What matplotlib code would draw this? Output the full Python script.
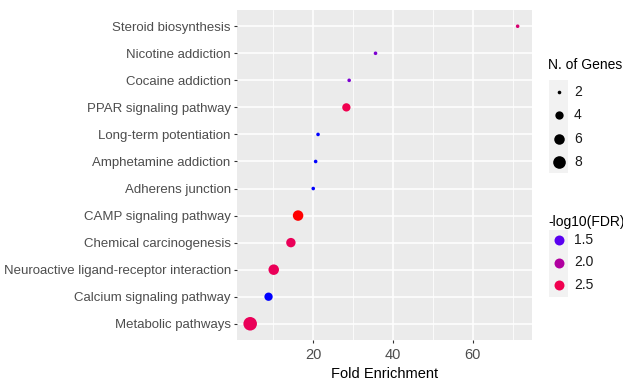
import numpy as np
import matplotlib.pyplot as plt
from matplotlib.colors import LinearSegmentedColormap, Normalize
from matplotlib.patches import Rectangle

plt.rcParams['font.family'] = ['Liberation Sans', 'DejaVu Sans']

# ------------------------------------------------------------
# data
# ------------------------------------------------------------
pathways = [
    "Steroid biosynthesis",
    "Nicotine addiction",
    "Cocaine addiction",
    "PPAR signaling pathway",
    "Long-term potentiation",
    "Amphetamine addiction",
    "Adherens junction",
    "CAMP signaling pathway",
    "Chemical carcinogenesis",
    "Neuroactive ligand-receptor interaction",
    "Calcium signaling pathway",
    "Metabolic pathways",
]
fold_enrichment = [71.2, 35.6, 29.0, 28.3, 21.2, 20.6, 20.0, 16.2, 14.4, 10.1, 8.8, 4.2]
n_genes = [2, 2, 2, 4, 2, 2, 2, 6, 5, 6, 4, 9]
neg_log10_fdr = [2.3, 1.7, 1.7, 2.5, 1.32, 1.32, 1.32, 2.8, 2.45, 2.45, 1.32, 2.45]

size_breaks = [2, 4, 6, 8]
color_breaks = [1.5, 2.0, 2.5]

# ------------------------------------------------------------
# scales
# ------------------------------------------------------------
W, H, DPI = 623, 383, 100
vmin, vmax = 1.32, 2.8
stops = [(1.32, "#0000FF"), (1.5, "#5A00F0"), (2.0, "#B000A0"), (2.5, "#F00050"), (2.8, "#FF0000")]
cmap = LinearSegmentedColormap.from_list(
    "fdr", [((v - vmin) / (vmax - vmin), c) for v, c in stops])
norm = Normalize(vmin, vmax)


def marker_area(n):
    # dot diameter in pixels -> scatter area in pt^2
    d_px = np.interp(n, [2, 4, 6, 8, 10], [3.6, 8.3, 10.5, 12.6, 14.5])
    return (d_px * 72 / DPI) ** 2


fig = plt.figure(figsize=(W / DPI, H / DPI), dpi=DPI)
ax = fig.add_axes([237 / W, 1 - 340 / H, (532 - 237) / W, (340 - 10) / H])
ax.set_facecolor("#EBEBEB")

y = np.arange(len(pathways))
ax.scatter(fold_enrichment, y, s=marker_area(np.array(n_genes)),
           c=cmap(norm(neg_log10_fdr)), linewidths=0, zorder=3)

ax.set_ylim(len(pathways) - 0.4, -0.6)
ax.set_xlim(0.9, 74.8)
ax.set_yticks(y)
ax.set_yticklabels(pathways)
ax.set_xticks([20, 40, 60])
ax.set_xticks([10, 30, 50, 70], minor=True)

ax.grid(True, which="major", color="white", linewidth=1.1)
ax.grid(True, which="minor", axis="x", color="white", linewidth=0.55)
ax.set_axisbelow(True)
for sp in ax.spines.values():
    sp.set_visible(False)
ax.tick_params(axis="y", which="major", length=2.5, width=0.8, color="#333333",
               labelcolor="#4D4D4D", labelsize=9.5, pad=2)
ax.tick_params(axis="x", which="major", length=2.5, width=0.8, color="#333333",
               labelcolor="#4D4D4D", labelsize=10.5, pad=3.5)
ax.tick_params(axis="x", which="minor", length=0)
ax.set_xlabel("Fold Enrichment", fontsize=10.5, labelpad=3)

# ------------------------------------------------------------
# legends (drawn in pixel coordinates)
# ------------------------------------------------------------
lax = fig.add_axes([0, 0, 1, 1], facecolor="none")
lax.set_xlim(0, W)
lax.set_ylim(H, 0)
lax.axis("off")

lax.text(548, 65, "N. of Genes", fontsize=10, va="center", ha="left")
lax.add_patch(Rectangle((549, 80), 19, 93, facecolor="#F2F2F2", edgecolor="none"))
for i, n in enumerate(size_breaks):
    yy = 92 + i * 23.3
    lax.scatter([558.5], [yy], s=marker_area(n), color="black", linewidths=0)
    lax.text(574, yy, str(n), fontsize=10, va="center", ha="left", color="#1A1A1A")

lax.text(548, 222, "-log10(FDR)", fontsize=10, va="center", ha="left")
lax.add_patch(Rectangle((549, 230), 19, 67, facecolor="#F2F2F2", edgecolor="none"))
for i, v in enumerate(color_breaks):
    yy = 240 + i * 22.5
    lax.scatter([558.5], [yy], s=marker_area(5.5), color=cmap(norm(v)), linewidths=0)
    lax.text(574, yy, f"{v:.1f}", fontsize=10, va="center", ha="left", color="#1A1A1A")

fig.savefig("out.png", dpi=DPI, facecolor="white")
